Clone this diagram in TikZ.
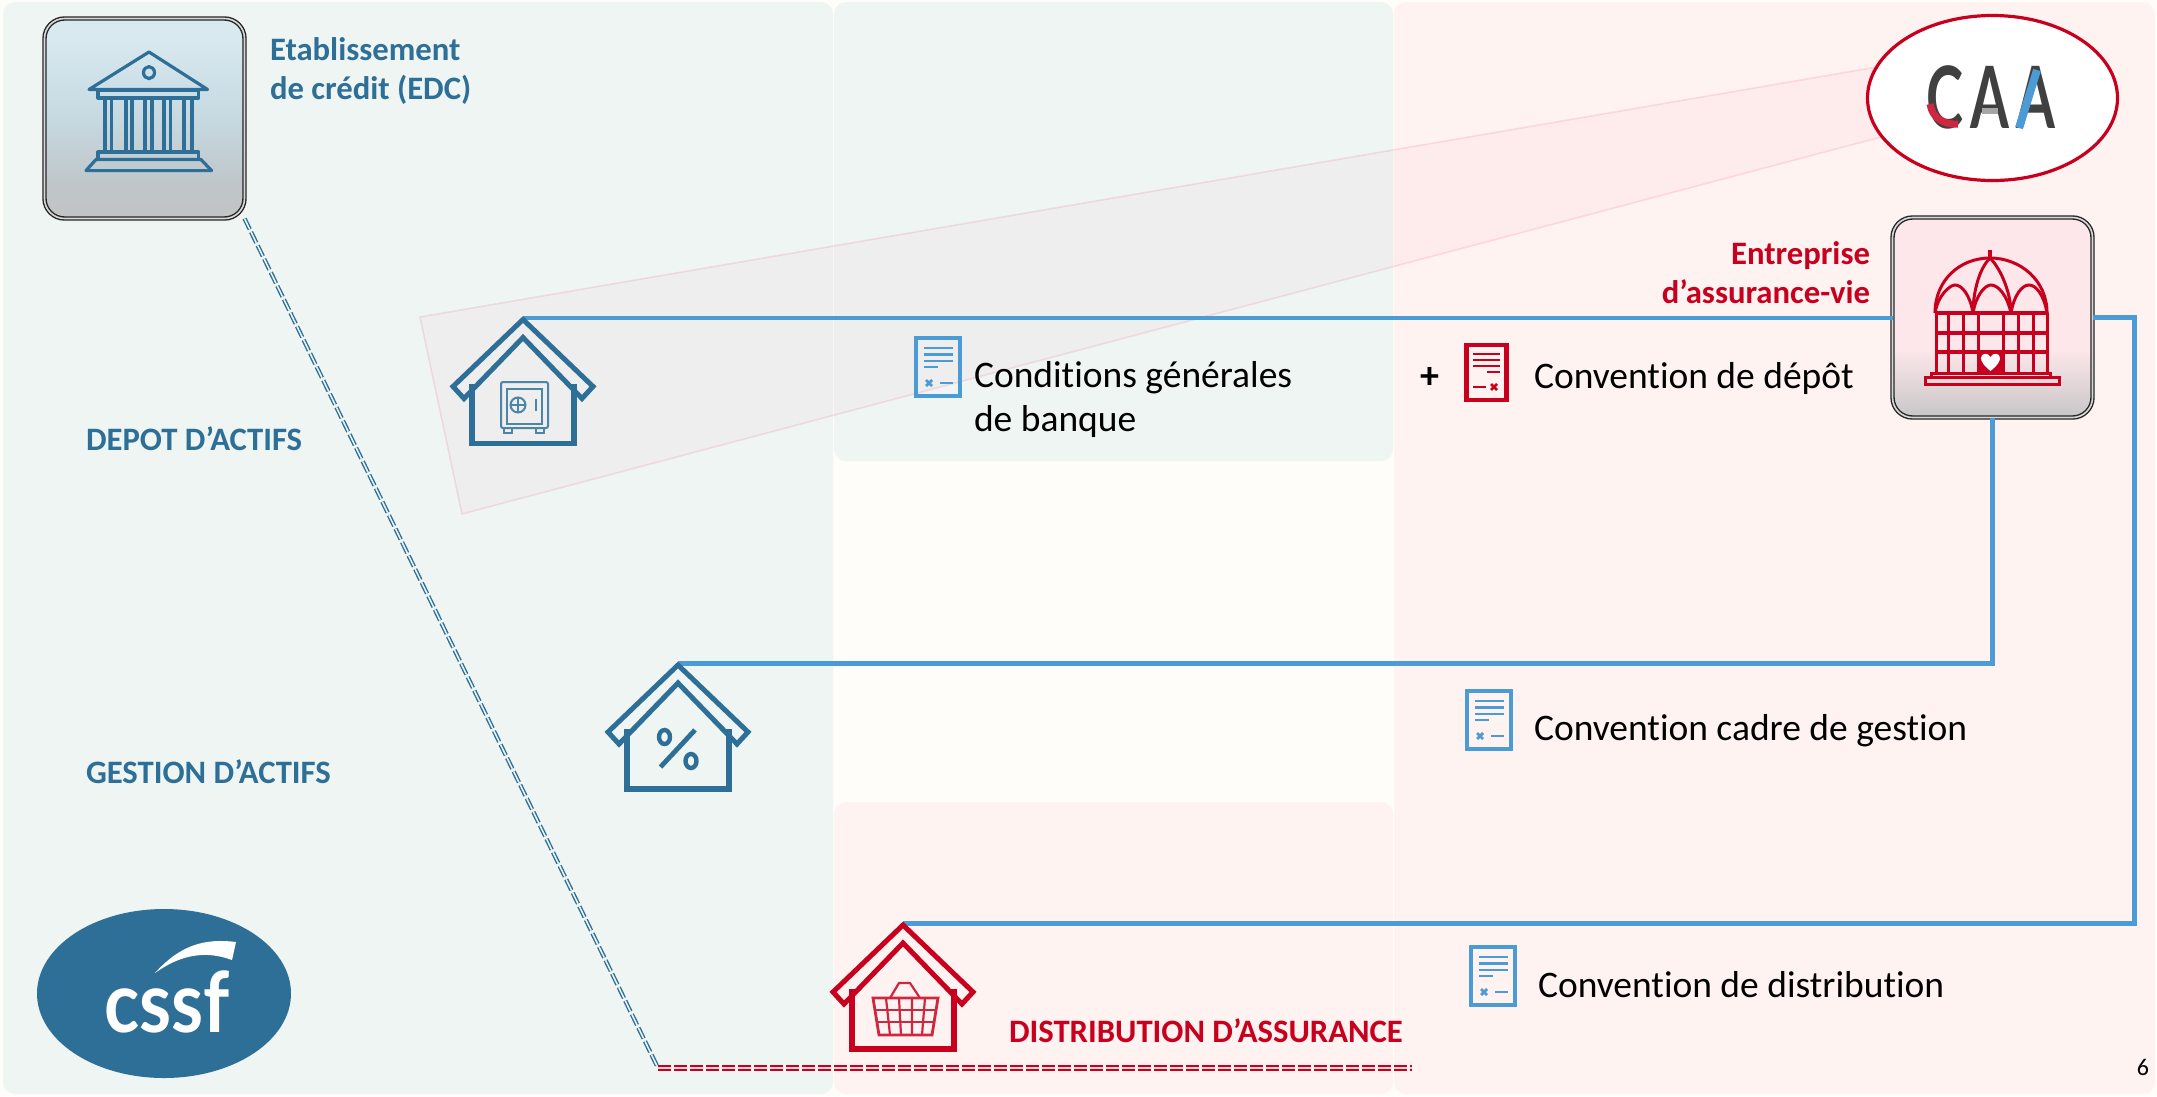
\documentclass[tikz,border=0pt]{standalone}
\usepackage{fontspec}
\setmainfont[Ligatures={NoCommon}]{Carlito}
\newfontfamily\logofont{Lato}
\usetikzlibrary{shapes.geometric}
\definecolor{pagebg}{HTML}{FFFDF9}
\definecolor{greenpanel}{HTML}{EEF5F3}
\definecolor{redpanel}{HTML}{FFF3F1}
\definecolor{brandblue}{HTML}{2E6F98}
\definecolor{linkblue}{HTML}{4A9BD6}
\definecolor{brandred}{HTML}{C8001E}
\definecolor{beamred}{HTML}{F00050}
\definecolor{logodark}{HTML}{404040}
\definecolor{dashinner}{HTML}{F9D5D8}
\definecolor{edcA}{HTML}{D8E9EF}
\definecolor{edcB}{HTML}{C6D9E1}
\definecolor{edcC}{HTML}{BFC5C8}
\definecolor{edcD}{HTML}{C2C4C4}
\definecolor{eavA}{HTML}{FDE7EA}
\definecolor{eavB}{HTML}{C8C6C8}
\pgfdeclareverticalshading{edcshade}{100bp}{color(0bp)=(edcD); color(25bp)=(edcD); color(33bp)=(edcC); color(50bp)=(edcB); color(70bp)=(edcA); color(100bp)=(edcA)}
\pgfdeclareverticalshading{eavshade}{100bp}{color(0bp)=(eavB); color(25bp)=(eavB); color(42bp)=(eavA); color(100bp)=(eavA)}
\newcommand{\fs}[1]{\fontsize{#1}{#1}\selectfont}
\tikzset{
  x=1pt,y=-1pt,
  panel/.style={rounded corners=12pt,draw=none},
  bigbox/.style={rectangle,rounded corners=20pt,minimum width=200pt,minimum height=200pt,inner sep=0pt,outer sep=0pt,draw=black!85,line width=1.4pt,double=white!85!black,double distance=1.6pt},
  lbl/.style={inner sep=0pt,outer sep=0pt,anchor=base west},
  bluetitle/.style={lbl,text=brandblue,font=\fs{32.7}\bfseries},
  redtitle/.style={lbl,text=brandred,font=\fs{32.7}\bfseries},
  doctext/.style={lbl,text=black,font=\fs{37.5}},
  linkline/.style={draw=linkblue,line width=5pt},
  dblblue/.style={draw=brandblue,line width=1.4pt,double=greenpanel,double distance=1.5pt,dash pattern=on 12pt off 3pt},
  dblred/.style={draw=brandred,line width=1.7pt,double=dashinner,double distance=1.8pt,dash pattern=on 13pt off 3pt},
  houseicon/.pic={
    \draw[line width=5pt,miter limit=10,pic actions] (0,2) -- (70,69) -- (59,81) -- (0,20) -- (-59,81) -- (-70,69) -- cycle;
    \draw[line width=5.5pt,pic actions] (-51,66) -- (-51,126) -- (51,126) -- (51,66);
  },
  docblue/.pic={
    \draw[draw=linkblue,line width=4.5pt] (2,2) rectangle (46,60);
    \draw[draw=linkblue,line width=2.8pt] (10,12) -- (39,12) (10,18.5) -- (39,18.5) (10,25) -- (39,25) (10,31) -- (24,31) (26,47) -- (39,47);
    \draw[draw=linkblue,line width=2.8pt] (12,44) -- (18,50) (18,44) -- (12,50);
  },
  docred/.pic={
    \draw[draw=brandred,line width=4.5pt] (2,2) rectangle (42,57);
    \draw[draw=brandred,line width=2.6pt] (8.5,11) -- (35.5,11) (8.5,17) -- (35.5,17) (8.5,23) -- (35.5,23) (22.5,29) -- (35.5,29) (8.5,44) -- (21.5,44);
    \draw[draw=brandred,line width=2.6pt] (26.5,41) -- (32.5,47) (32.5,41) -- (26.5,47);
  }
}
\begin{document}
\begin{tikzpicture}
\useasboundingbox (0,0) rectangle (2157,1096);
\fill[pagebg] (0,0) rectangle (2157,1096);
% panels
\fill[panel,greenpanel] (3,2) rectangle (833,1094);
\fill[panel,greenpanel] (834,2) rectangle (1393,461);
\fill[panel,redpanel] (834,802) rectangle (1393,1094);
\fill[panel,redpanel] (1394,2) rectangle (2155,1094);
% pink beam
\path[fill=beamred,fill opacity=.026,draw=beamred,draw opacity=.1,line width=1.6pt]
  (420,317) -- (1900,63) -- (1900,132) -- (462,514) -- cycle;
% CAA ellipse
\node[ellipse,draw=brandred,fill=white,line width=3.2pt,minimum width=250pt,minimum height=165pt,inner sep=0pt] (caa) at (1992.5,98) {};
\node[inner sep=0pt,anchor=base,text=logodark] (caatext) at (1991,128) {\logofont\bfseries\fs{86}\scalebox{.65}[1]{C\kern11pt A\kern11pt A}};
\draw[brandred!85!white,line width=7pt] (1930,104) .. controls (1932,118) and (1944,125) .. (1958,124);
\draw[linkblue,line width=8pt] (2037,70) -- (2019,128);
\draw[gray!70,line width=6pt] (1982,111) -- (1998,111);
% boxes
\node[bigbox,shading=edcshade] (edc) at (144.5,118.5) {};
\node[bigbox,shading=eavshade] (eav) at (1992.5,317.5) {};
% temple
\begin{scope}[draw=brandblue,line width=3.2pt,line join=round]
  \draw (149,52) -- (207.6,89.5) -- (89,89.5) -- cycle;
  \draw (149,72.6) circle[x radius=5.5pt,y radius=6pt];
  \draw (98,90.5) rectangle (198.7,98);
  \foreach \a/\b in {105/111.6,126/132,145/152,164/170.5,184/192}{\draw (\a,98) rectangle (\b,152);}
  \draw (98,152) rectangle (198.7,159.5);
  \draw (96,159.5) -- (201,159.5) -- (211.6,170.6) -- (86,170.6) -- cycle;
\end{scope}
% dome
\begin{scope}[draw=brandred,line width=3pt]
  \draw[line width=4.5pt] (1990,250) -- (1990,258);
  \draw (1935,313) .. controls (1935,280) and (1960,258) .. (1990,258) .. controls (2020,258) and (2047,280) .. (2047,313);
  \draw (1935,313) .. controls (1938,295) and (1950,285) .. (1955,285) .. controls (1962,285) and (1970,295) .. (1973,313);
  \draw (1973,313) .. controls (1976,295) and (1985,285) .. (1991,285) .. controls (1998,285) and (2007,295) .. (2011,313);
  \draw (2011,313) .. controls (2014,295) and (2022,285) .. (2029,285) .. controls (2036,285) and (2044,295) .. (2047,313);
  \draw (1990,258) .. controls (1978,270) and (1973,295) .. (1973,313);
  \draw (1990,258) .. controls (2002,270) and (2011,295) .. (2011,313);
  \draw[line width=3.6pt] (1936,333) -- (2047,333) (1936,352) -- (2047,352);
  \draw[line width=4.5pt] (1936,313) -- (2047,313);
  \foreach \v in {1936,1948,1963,1978,2003,2018,2033,2047}{\draw (\v,313) -- (\v,373);}
  \fill[brandred] (1978,352) rectangle (2003,373);
  \fill[white] (1990.5,371) .. controls (1983,365) and (1981,361) .. (1981,358) .. controls (1981,353) and (1988,352) .. (1990.5,357) .. controls (1993,352) and (2000,353) .. (2000,358) .. controls (2000,361) and (1998,365) .. (1990.5,371) -- cycle;
  \draw (1931,373) rectangle (2050,377);
  \draw (1925,377) rectangle (2059,384);
\end{scope}
% connector ends
\coordinate (h1) at (523,317.5);
\coordinate (h2) at (678,663);
\coordinate (h3) at (903,923);
\coordinate (rturn) at (2134,923);
\coordinate (kink) at (658,1068);
\coordinate (dashend) at (1412,1068);
% dashed lines
\draw[dblblue] (edc.south east) -- (kink);
\draw[dblred] (kink) -- (dashend);
% connectors
\draw[linkline,line width=4pt] (h1) -- (eav.west);
\draw[linkline] (eav.east) -| (rturn) -- (h3);
\draw[linkline] (eav.south) |- (h2);
% houses
\pic[draw=brandblue] at (h1) {houseicon};
\pic[draw=brandblue] at (h2) {houseicon};
\pic[draw=brandred] at (h3) {houseicon};
% safe
\begin{scope}[draw=brandblue!85!white]
  \draw[line width=2pt,rounded corners=2pt] (501,382) rectangle (548,428);
  \draw[line width=2pt] (507,388.5) rectangle (542,424);
  \draw[line width=2pt] (504,428) rectangle (512,433) (536,428) rectangle (544,433);
  \draw[line width=2pt] (518,405) circle[radius=7.5pt];
  \draw[line width=1.5pt] (518,398) -- (518,412) (511,405) -- (525,405);
  \draw[line width=2.5pt] (536,399) -- (536,411);
\end{scope}
% percent
\begin{scope}[draw=brandblue,line width=4.4pt]
  \draw (664.5,737) circle[x radius=5.5pt,y radius=7pt];
  \draw (691,761) circle[x radius=5.5pt,y radius=7pt];
  \draw[line width=4.8pt] (695,730) -- (660.5,767);
\end{scope}
% basket
\begin{scope}[draw=brandred!85!white,line width=2.2pt]
  \draw[line width=2.8pt] (873,998) -- (938,998) -- (932,1035) -- (879,1035) -- cycle;
  \draw (890,998) -- (899,983) -- (910,983) -- (920,998);
  \draw (875,1010) -- (936,1010) (877,1022) -- (934,1022);
  \draw (886,998) -- (890,1035) (899,998) -- (901,1035) (912,998) -- (912,1035) (925,998) -- (922,1035);
\end{scope}
% logos and icons
\node[ellipse,fill=brandblue,minimum width=254pt,minimum height=169pt,inner sep=0pt] (cssf) at (164,993.5) {};
\node[inner sep=0pt,anchor=base,text=white] (cssftext) at (167,1032) {\logofont\bfseries\fs{84}\scalebox{.87}[1]{cssf}};
\fill[white] (155,973) .. controls (180,945) and (205,938) .. (236,942) -- (232,960) .. controls (205,950) and (180,955) .. (155,973) -- cycle;
\pic at (914,336) {docblue};
\pic at (1464.5,343) {docred};
\pic at (1465,689) {docblue};
\pic at (1469,945) {docblue};
% labels
\node[bluetitle,anchor=north west,align=left,font=\fontsize{32.7}{39}\selectfont\bfseries] (edclabel) at (270,37.5) {Etablissement\\de crédit (EDC)};
\node[redtitle,anchor=north east,align=right,font=\fontsize{32.7}{39}\selectfont\bfseries] (eavlabel) at (1870,242) {Entreprise\\d’assurance-vie};
\node[bluetitle] (depot) at (86,450) {DEPOT D’ACTIFS};
\node[bluetitle] (gestion) at (86,783) {GESTION D’ACTIFS};
\node[redtitle] (distrib) at (1009,1042) {DISTRIBUTION D’ASSURANCE};
\node[doctext,anchor=north west,align=left,font=\fontsize{37.5}{44}\selectfont] (cond) at (974,361) {Conditions générales\\de banque};
\node[lbl,text=black,font=\fs{38}\bfseries,anchor=center] (plus) at (1430,378) {+};
\node[doctext] (cdepot) at (1534,388) {Convention de dépôt};
\node[doctext] (cgestion) at (1534,740) {Convention cadre de gestion};
\node[doctext] (cdistrib) at (1538,997) {Convention de distribution};
\node[lbl,text=black,font=\fs{24},anchor=center] (pagenum) at (2143,1067) {6};
\end{tikzpicture}
\end{document}
